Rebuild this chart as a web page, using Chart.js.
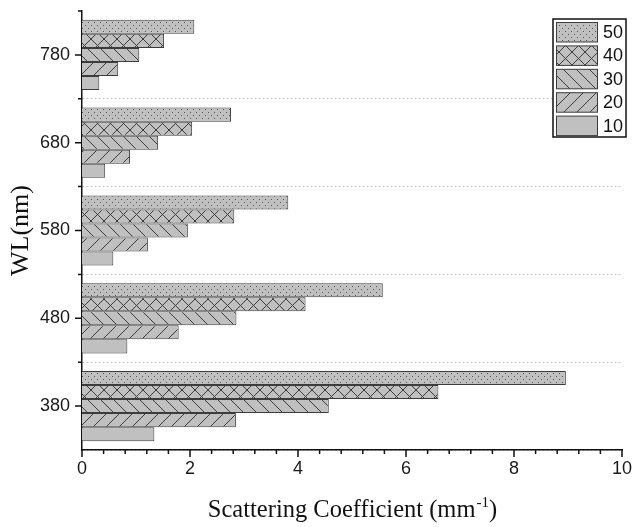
<!DOCTYPE html>
<html>
<head>
<meta charset="utf-8">
<script src="https://cdn.jsdelivr.net/npm/chart.js@4.4.1/dist/chart.umd.min.js"></script>
<style>
  html, body { margin: 0; padding: 0; background: #fff; }
  #wrap { width: 634px; height: 527px; }
</style>
</head>
<body>
<div id="wrap"><canvas id="chart" width="634" height="527"></canvas></div>
<script>
// wavelengths (nm), top to bottom as in the figure
const wavelengths = ["780", "680", "580", "480", "380"];
// legend series labels, top to bottom
const seriesLabels = ["50", "40", "30", "20", "10"];

// scattering coefficient (mm^-1) per series, in wavelength order above
const s50 = [2.08, 2.76, 3.82, 5.57, 8.96];
const s40 = [1.52, 2.04, 2.82, 4.14, 6.60];
const s30 = [1.06, 1.41, 1.96, 2.86, 4.57];
const s20 = [0.67, 0.89, 1.22, 1.79, 2.85];
const s10 = [0.32, 0.43, 0.58, 0.84, 1.34];

const xTicks = [0, 2, 4, 6, 8, 10];

const BAR_GRAY = "#c0c0c0";
const LINE_GRAY = "#3c3c3c";

function makePattern(kind) {
  const c = document.createElement("canvas");
  const size = kind === "dots" ? 6 : 13;
  c.width = size;
  c.height = size;
  const g = c.getContext("2d");
  g.fillStyle = BAR_GRAY;
  g.fillRect(0, 0, size, size);
  g.strokeStyle = LINE_GRAY;
  g.fillStyle = "#555";
  g.lineWidth = 1;
  const fwd = () => {
    g.beginPath();
    g.moveTo(-1, size + 1); g.lineTo(size + 1, -1);
    g.moveTo(-2, 2); g.lineTo(2, -2);
    g.moveTo(size - 2, size + 2); g.lineTo(size + 2, size - 2);
    g.stroke();
  };
  const back = () => {
    g.beginPath();
    g.moveTo(-1, -1); g.lineTo(size + 1, size + 1);
    g.moveTo(size - 2, -2); g.lineTo(size + 2, 2);
    g.moveTo(-2, size - 2); g.lineTo(2, size + 2);
    g.stroke();
  };
  if (kind === "fwd") fwd();
  if (kind === "back") back();
  if (kind === "cross") { fwd(); back(); }
  if (kind === "dots") {
    g.fillRect(1, 1, 1, 1);
    g.fillRect(4, 4, 1, 1);
  }
  if (kind === "solid") return BAR_GRAY;
  return g.createPattern(c, "repeat");
}

const fills = [
  makePattern("dots"),
  makePattern("cross"),
  makePattern("back"),
  makePattern("fwd"),
  makePattern("solid")
];
const seriesData = [s50, s40, s30, s20, s10];

const datasets = seriesLabels.map((label, i) => ({
  label: label,
  data: seriesData[i],
  backgroundColor: fills[i],
  borderColor: LINE_GRAY,
  borderWidth: 1,
  barPercentage: 1.0,
  categoryPercentage: 0.8
}));

const tickFont = { family: "'Liberation Sans', Arial, sans-serif", size: 18 };

// minor/major tick marks, axis titles
const axisDecor = {
  id: "axisDecor",
  afterDraw(chart) {
    const { ctx, chartArea } = chart;
    const xs = chart.scales.x;
    const ys = chart.scales.y;
    ctx.save();
    ctx.strokeStyle = "#111";
    ctx.lineWidth = 1.5;
    ctx.beginPath();
    for (let k = 0; k <= 25; k++) {
      const px = xs.getPixelForValue(k * 0.4);
      const len = k % 5 === 0 ? 7 : 4;
      ctx.moveTo(px, chartArea.bottom);
      ctx.lineTo(px, chartArea.bottom + len);
    }
    const n = wavelengths.length;
    const step = n > 1 ? ys.getPixelForTick(1) - ys.getPixelForTick(0) : 0;
    for (let i = 0; i < n; i++) {
      const py = ys.getPixelForTick(i);
      ctx.moveTo(chartArea.left, py);
      ctx.lineTo(chartArea.left - 7, py);
      ctx.moveTo(chartArea.left, py - step / 2);
      ctx.lineTo(chartArea.left - 4, py - step / 2);
    }
    ctx.stroke();

    ctx.fillStyle = "#111";
    ctx.textBaseline = "alphabetic";
    // x title with superscript
    const main = "Scattering Coefficient (mm";
    const sup = "-1";
    const tail = ")";
    const f1 = "24.5px 'Liberation Serif', 'Times New Roman', serif";
    const f2 = "15px 'Liberation Serif', 'Times New Roman', serif";
    ctx.font = f1;
    const w1 = ctx.measureText(main).width;
    const w3 = ctx.measureText(tail).width;
    ctx.font = f2;
    const w2 = ctx.measureText(sup).width;
    const total = w1 + w2 + w3;
    let tx = (chartArea.left + chartArea.right) / 2 - total / 2;
    const ty = chartArea.bottom + 67;
    ctx.textAlign = "left";
    ctx.font = f1;
    ctx.fillText(main, tx, ty);
    ctx.font = f2;
    ctx.fillText(sup, tx + w1 + 1, ty - 10);
    ctx.font = f1;
    ctx.fillText(tail, tx + w1 + w2 + 1, ty);

    // y title
    ctx.translate(21, (chartArea.top + chartArea.bottom) / 2);
    ctx.rotate(-Math.PI / 2);
    ctx.textAlign = "center";
    ctx.textBaseline = "middle";
    ctx.font = "26px 'Liberation Serif', 'Times New Roman', serif";
    ctx.fillText("WL(nm)", 0, 0);
    ctx.restore();
  }
};

// boxed legend in the top right corner
const boxLegend = {
  id: "boxLegend",
  afterDatasetsDraw(chart) {
    const { ctx, chartArea } = chart;
    const left = chartArea.right - 69;
    const top = chartArea.top + 8;
    const w = 73, h = 118;
    ctx.save();
    ctx.fillStyle = "#fff";
    ctx.fillRect(left, top, w, h);
    ctx.strokeStyle = "#111";
    ctx.lineWidth = 1.5;
    ctx.strokeRect(left, top, w, h);
    ctx.font = "18px 'Liberation Sans', Arial, sans-serif";
    ctx.textBaseline = "middle";
    ctx.textAlign = "left";
    chart.data.datasets.forEach((ds, i) => {
      const sy = top + 3.5 + i * 23.4;
      ctx.fillStyle = ds.backgroundColor;
      ctx.fillRect(left + 3.5, sy, 41, 19.5);
      ctx.strokeStyle = LINE_GRAY;
      ctx.lineWidth = 1;
      ctx.strokeRect(left + 3.5, sy, 41, 19.5);
      ctx.fillStyle = "#111";
      ctx.fillText(ds.label, left + 50, sy + 10.5);
    });
    ctx.restore();
  }
};

new Chart(document.getElementById("chart"), {
  type: "bar",
  data: { labels: wavelengths, datasets: datasets },
  options: {
    responsive: false,
    animation: false,
    indexAxis: "y",
    layout: { padding: { top: 11, right: 12, left: 0, bottom: 0 } },
    plugins: {
      legend: { display: false },
      tooltip: { enabled: false }
    },
    scales: {
      x: {
        type: "linear",
        min: 0,
        max: 10,
        afterBuildTicks: s => { s.ticks = xTicks.map(v => ({ value: v })); },
        ticks: { font: tickFont, color: "#1a1a1a", padding: 8, maxRotation: 0 },
        grid: { display: false, drawTicks: false },
        border: { color: "#111", width: 1.5 },
        afterFit: s => { s.height = 77; s.paddingLeft = 0; s.paddingRight = 0; }
      },
      y: {
        type: "category",
        offset: true,
        ticks: { font: tickFont, color: "#1a1a1a", padding: 12 },
        grid: {
          offset: true,
          drawTicks: false,
          lineWidth: 1,
          color: c => (c.index === 0 || c.index >= wavelengths.length) ? "rgba(0,0,0,0)" : "#c4c4c4"
        },
        border: { color: "#111", width: 1.5, dash: [2, 2] },
        afterFit: s => { s.width = 82; s.paddingTop = 0; s.paddingBottom = 0; }
      }
    }
  },
  plugins: [axisDecor, boxLegend]
});
</script>
</body>
</html>
